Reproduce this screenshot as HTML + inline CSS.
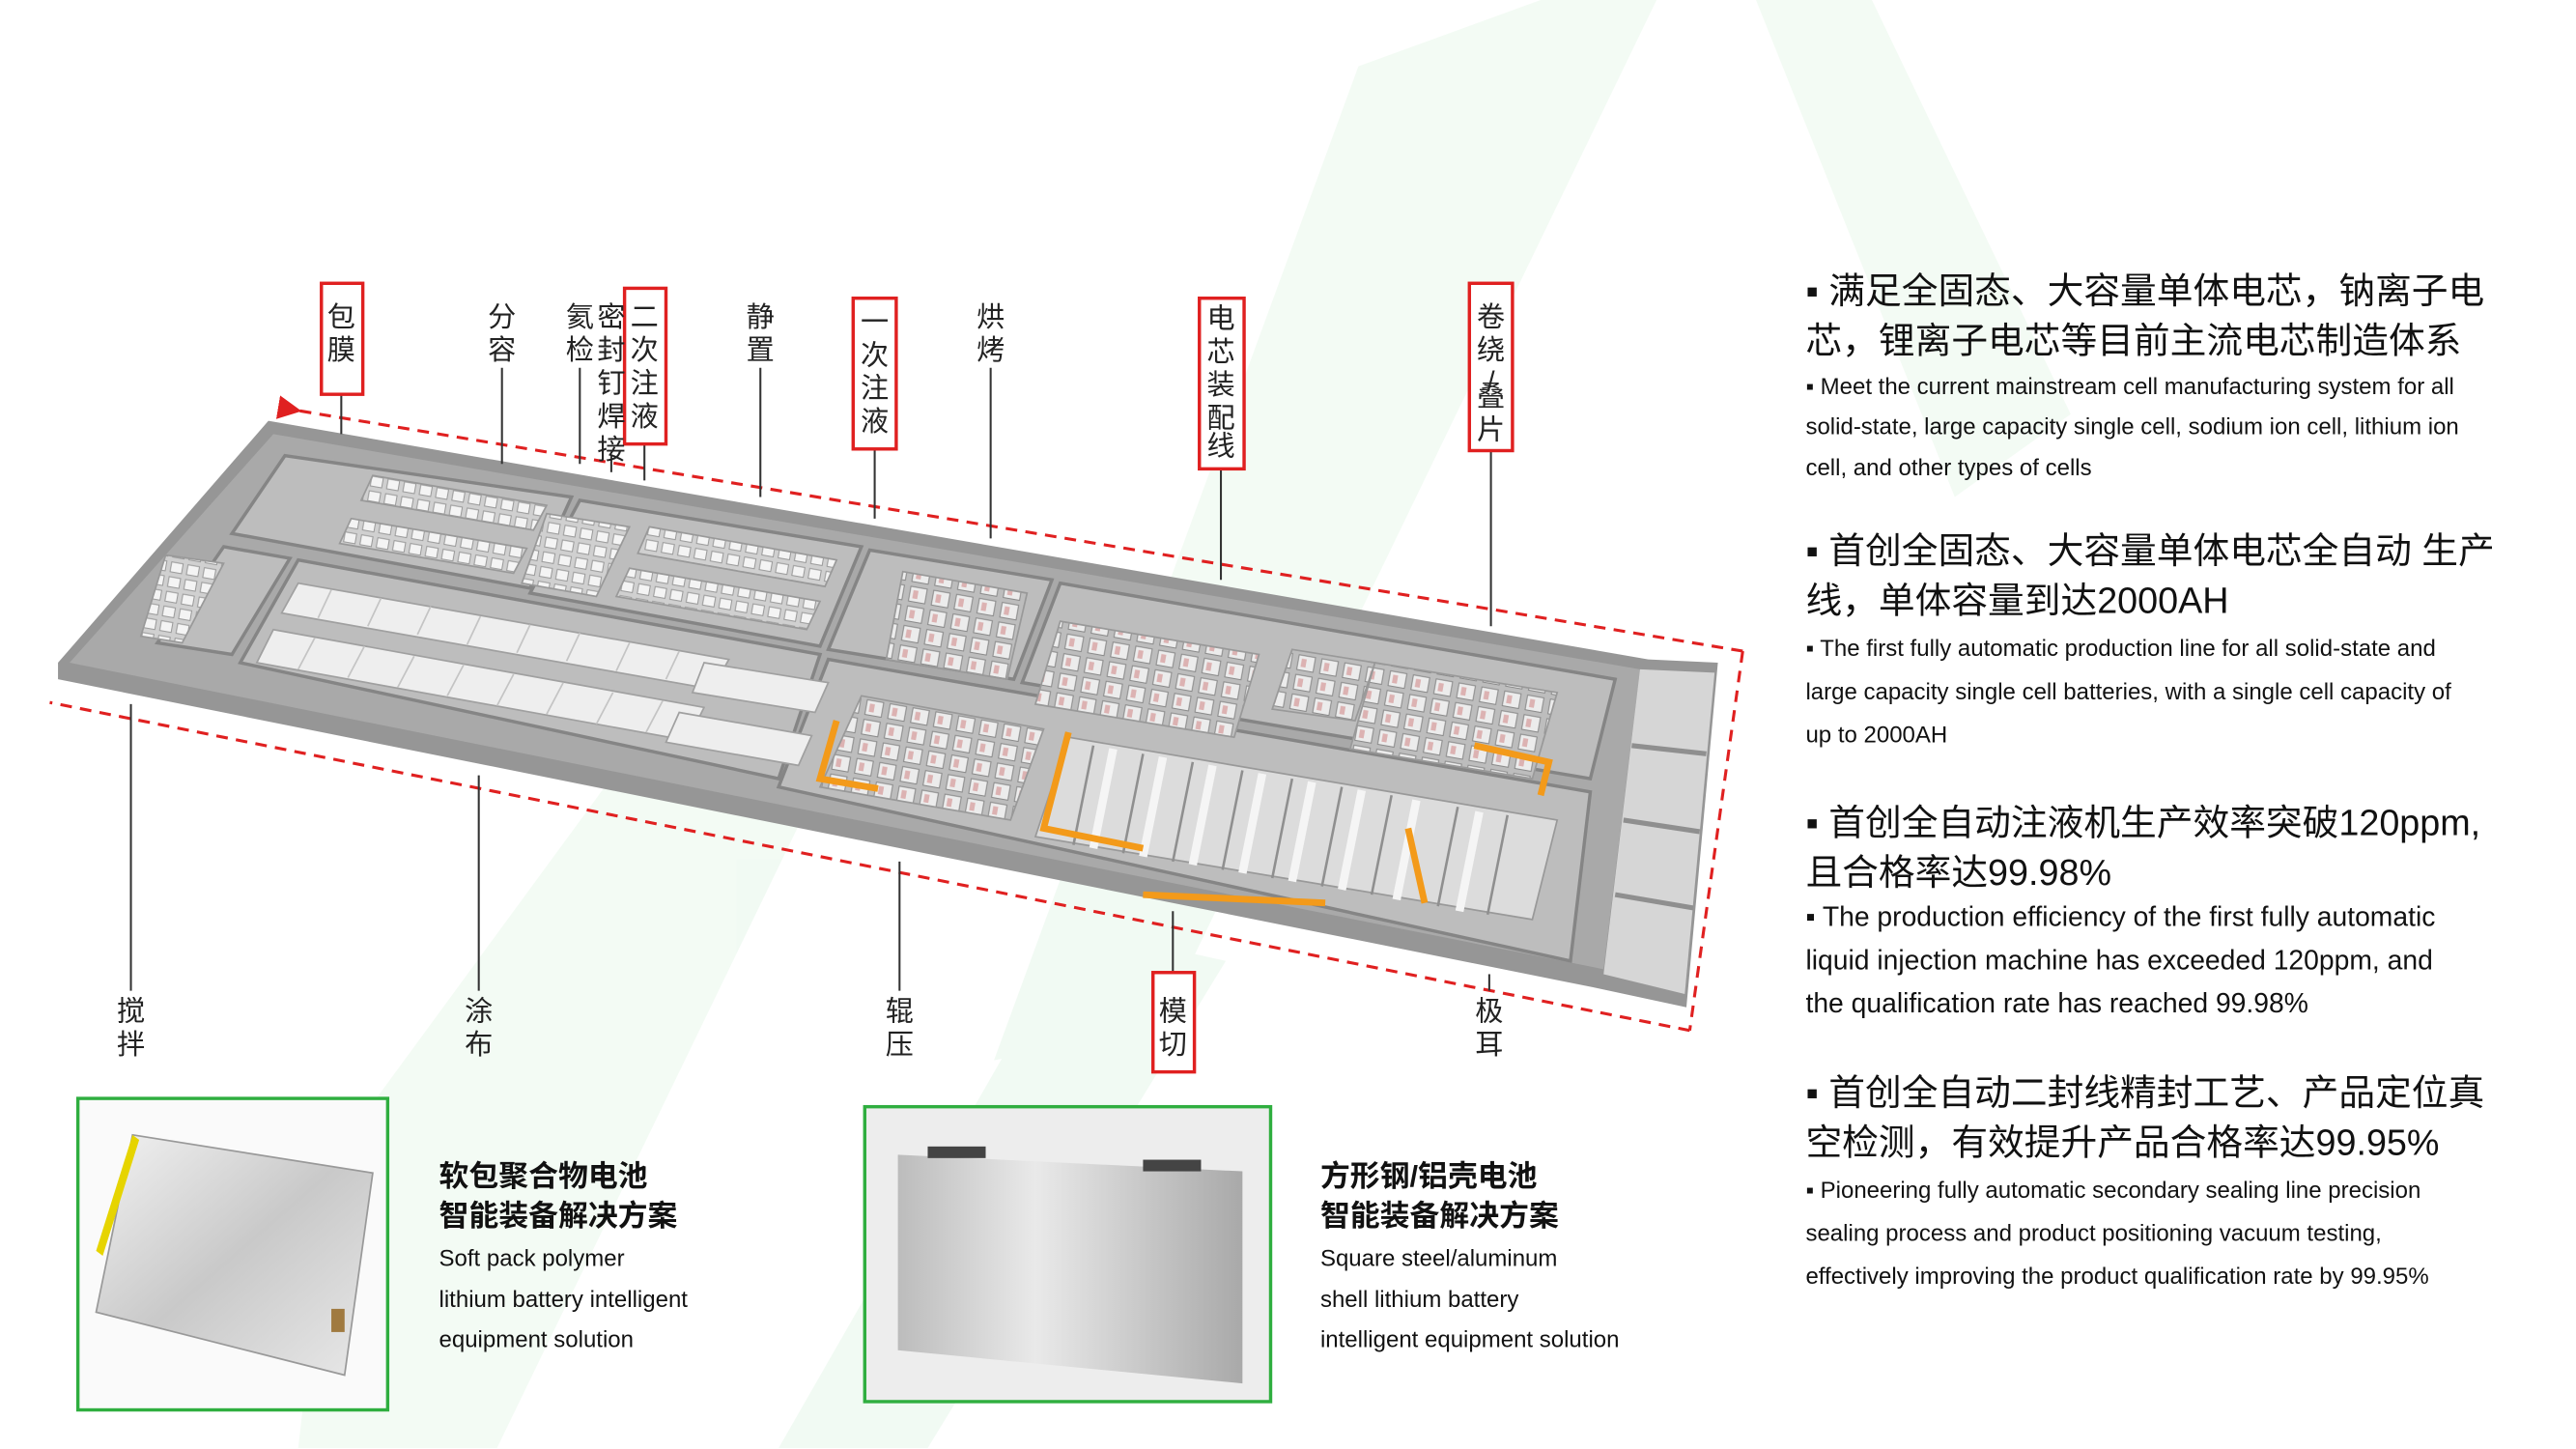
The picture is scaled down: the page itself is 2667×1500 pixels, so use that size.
<!DOCTYPE html>
<html><head><meta charset="utf-8"><style>
html,body{margin:0;padding:0;background:#fff;}
svg{display:block;}
text{font-family:"Liberation Sans","Noto Sans CJK SC",sans-serif;}
</style></head><body>
<svg width="2667" height="1500" viewBox="0 0 1555 874.6" xmlns="http://www.w3.org/2000/svg">
<defs>
<linearGradient id="g1" x1="0" y1="0" x2="1" y2="1"><stop offset="0" stop-color="#f2f2f2"/><stop offset="0.5" stop-color="#c9c9c9"/><stop offset="1" stop-color="#e8e8e8"/></linearGradient>
<linearGradient id="g2" x1="0" y1="0" x2="1" y2="0"><stop offset="0" stop-color="#bcbcbc"/><stop offset="0.4" stop-color="#e9e9e9"/><stop offset="1" stop-color="#a9a9a9"/></linearGradient>
<pattern id="eq" width="10" height="9" patternUnits="userSpaceOnUse" patternTransform="rotate(10)">
<rect width="10" height="9" fill="#d0d0d0"/><rect x="1" y="1" width="7" height="6" fill="#f4f4f4" stroke="#9a9a9a" stroke-width="0.6"/>
</pattern>
<pattern id="eq2" width="14" height="12" patternUnits="userSpaceOnUse" patternTransform="rotate(10)">
<rect width="14" height="12" fill="#bdbdbd"/><rect x="1" y="1" width="10" height="9" fill="#ececec" stroke="#8a8a8a" stroke-width="0.6"/><rect x="3" y="3" width="3" height="5" fill="#c77" opacity="0.5"/>
</pattern>
<marker id="ar" markerWidth="8" markerHeight="8" refX="4" refY="4" orient="auto"><path d="M8,0 L0,4 L8,8 z" fill="#e02020"/></marker>
</defs>
<rect width="1555" height="875" fill="#fff"/>
<g fill="#2db34a" opacity="0.06">
<polygon points="820,40 930,0 1000,0 700,620 600,640"/>
<polygon points="200,700 420,400 520,420 300,874 180,874"/>
<polygon points="1060,0 1130,0 1250,250 1180,300"/>
<polygon points="470,874 650,560 740,580 560,874"/>
</g>
<polygon points="162,254 995,398 1037,400 1018,608 962,596 35,410 35,400" fill="#969696"/>
<polygon points="165,262 990,404 968,585 42,400" fill="#a9a9a9"/>
<polygon points="990,404 1035,406 1017,600 968,588" fill="#d6d6d6"/>
<g stroke="#8f8f8f" stroke-width="3"><line x1="985" y1="450" x2="1030" y2="455"/><line x1="980" y1="495" x2="1026" y2="502"/><line x1="975" y1="540" x2="1022" y2="548"/></g>
<g fill="#bdbdbd" stroke="#858585" stroke-width="2">
<polygon points="172,275 345,300 320,355 140,322"/>
<polygon points="350,302 520,330 495,390 320,358"/>
<polygon points="525,332 635,350 612,410 500,392"/>
<polygon points="640,352 975,410 960,470 617,412"/>
<polygon points="135,330 175,337 140,395 95,388"/>
<polygon points="180,338 495,395 470,470 145,400"/>
<polygon points="500,398 960,478 948,580 470,475"/>
</g>
<g fill="url(#eq)" stroke="#999" stroke-width="1">
<polygon points="225,287 330,305 322,320 218,302"/>
<polygon points="212,313 318,331 310,346 205,328"/>
<polygon points="392,318 505,338 498,354 385,334"/>
<polygon points="380,343 495,363 487,380 372,360"/>
<polygon points="100,335 135,340 110,388 85,384"/>
<polygon points="330,310 380,318 360,360 315,352"/>
</g>
<g fill="#eeeeee" stroke="#a0a0a0" stroke-width="1">
<polygon points="180,352 440,398 430,416 170,370"/>
<polygon points="165,380 425,427 415,447 155,400"/>
<polygon points="425,400 500,412 492,430 418,418"/>
<polygon points="410,430 490,444 482,462 402,448"/>
</g>
<g stroke="#c4c4c4" stroke-width="1">
<line x1="200" y1="356" x2="192" y2="373"/><line x1="230" y1="361" x2="222" y2="378"/><line x1="260" y1="366" x2="252" y2="383"/><line x1="290" y1="372" x2="282" y2="389"/><line x1="320" y1="377" x2="312" y2="394"/><line x1="350" y1="382" x2="342" y2="399"/><line x1="380" y1="388" x2="372" y2="405"/><line x1="410" y1="393" x2="402" y2="410"/>
<line x1="190" y1="385" x2="180" y2="404"/><line x1="220" y1="390" x2="210" y2="409"/><line x1="250" y1="396" x2="240" y2="415"/><line x1="280" y1="401" x2="270" y2="420"/><line x1="310" y1="407" x2="300" y2="426"/><line x1="340" y1="412" x2="330" y2="431"/><line x1="370" y1="418" x2="360" y2="437"/><line x1="400" y1="423" x2="390" y2="442"/>
</g>
<g fill="url(#eq2)" stroke="#999" stroke-width="1">
<polygon points="545,345 620,358 608,410 535,398"/>
<polygon points="640,375 760,395 745,445 625,425"/>
<polygon points="780,392 830,400 818,435 768,428"/>
<polygon points="830,400 940,418 925,470 815,452"/>
<polygon points="520,420 630,440 610,495 495,475"/>
</g>
<polygon points="645,445 940,495 925,555 625,505" fill="#dcdcdc" stroke="#999"/>
<g stroke="#8f8f8f" stroke-width="1.5">
<line x1="660" y1="450" x2="648" y2="510"/><line x1="690" y1="455" x2="678" y2="515"/><line x1="720" y1="460" x2="708" y2="520"/><line x1="750" y1="465" x2="738" y2="525"/><line x1="780" y1="470" x2="768" y2="530"/><line x1="810" y1="475" x2="798" y2="535"/><line x1="840" y1="480" x2="828" y2="540"/><line x1="880" y1="487" x2="868" y2="547"/><line x1="910" y1="492" x2="898" y2="552"/>
</g>
<g stroke="#f5f5f5" stroke-width="5">
<line x1="672" y1="452" x2="660" y2="512"/><line x1="702" y1="457" x2="690" y2="517"/><line x1="732" y1="462" x2="720" y2="522"/><line x1="762" y1="467" x2="750" y2="527"/><line x1="792" y1="472" x2="780" y2="532"/><line x1="822" y1="477" x2="810" y2="537"/><line x1="855" y1="483" x2="843" y2="543"/><line x1="893" y1="490" x2="881" y2="550"/>
</g>
<g stroke="#f39a1a" stroke-width="4" fill="none">
<polyline points="505,435 495,470 530,476"/>
<polyline points="645,442 630,500 690,512"/>
<polyline points="690,540 800,545"/>
<polyline points="850,500 860,545"/>
<polyline points="890,450 935,460 930,480"/>
</g>
<g stroke="#e02020" stroke-width="1.8" stroke-dasharray="7,5" fill="none">
<line x1="1052" y1="393" x2="175" y2="247" marker-end="url(#ar)"/>
<line x1="1052" y1="393" x2="1020" y2="622"/>
<line x1="1020" y1="622" x2="30" y2="424"/>
</g>
<g stroke="#333" stroke-width="1.2">
<line x1="206" y1="238" x2="206" y2="262"/>
<line x1="303" y1="222" x2="303" y2="280"/>
<line x1="350" y1="222" x2="350" y2="280"/>
<line x1="369" y1="275" x2="369" y2="285"/>
<line x1="389" y1="268" x2="389" y2="290"/>
<line x1="459" y1="222" x2="459" y2="300"/>
<line x1="528" y1="271" x2="528" y2="313"/>
<line x1="598" y1="222" x2="598" y2="325"/>
<line x1="737" y1="283" x2="737" y2="350"/>
<line x1="900" y1="272" x2="900" y2="378"/>
<line x1="79" y1="425" x2="79" y2="598"/>
<line x1="289" y1="468" x2="289" y2="598"/>
<line x1="543" y1="520" x2="543" y2="598"/>
<line x1="708" y1="550" x2="708" y2="588"/>
<line x1="899" y1="588" x2="899" y2="598"/>
</g>
<g fill="#fff" stroke="#e02020" stroke-width="2">
<rect x="194" y="171" width="25" height="67"/>
<rect x="377" y="174" width="25" height="94"/>
<rect x="515" y="180" width="26" height="91"/>
<rect x="724" y="180" width="27" height="103"/>
<rect x="887" y="171" width="26" height="101"/>
<rect x="696" y="587" width="25" height="60"/>
</g>
<g font-size="17" fill="#222" text-anchor="middle">
<text x="206" y="197">包</text><text x="206" y="217">膜</text>
<text x="303" y="197">分</text><text x="303" y="217">容</text>
<text x="350" y="197">氦</text><text x="350" y="217">检</text>
<text x="369" y="197">密</text><text x="369" y="217">封</text><text x="369" y="237">钉</text><text x="369" y="257">焊</text><text x="369" y="277">接</text>
<text x="389" y="197">二</text><text x="389" y="217">次</text><text x="389" y="237">注</text><text x="389" y="257">液</text>
<text x="459" y="197">静</text><text x="459" y="217">置</text>
<text x="528" y="200">一</text><text x="528" y="220">次</text><text x="528" y="240">注</text><text x="528" y="260">液</text>
<text x="598" y="197">烘</text><text x="598" y="217">烤</text>
<text x="737" y="198">电</text><text x="737" y="218">芯</text><text x="737" y="238">装</text><text x="737" y="258">配</text><text x="737" y="275">线</text>
<text x="900" y="197">卷</text><text x="900" y="217">绕</text><text x="900" y="236">/</text><text x="900" y="245">叠</text><text x="900" y="265">片</text>
<text x="79" y="616">搅</text><text x="79" y="636">拌</text>
<text x="289" y="616">涂</text><text x="289" y="636">布</text>
<text x="543" y="616">辊</text><text x="543" y="636">压</text>
<text x="708" y="616">模</text><text x="708" y="636">切</text>
<text x="899" y="616">极</text><text x="899" y="636">耳</text>
</g>
<rect x="47" y="663" width="187" height="188" fill="#fafafa" stroke="#2fae3f" stroke-width="2"/>
<polygon points="80,685 225,708 208,830 58,792" fill="url(#g1)" stroke="#999"/>
<polygon points="80,685 58,755 62,758 84,688" fill="#e6d400"/>
<rect x="200" y="790" width="8" height="14" fill="#a07a40"/>
<rect x="522" y="668" width="245" height="178" fill="#ededed" stroke="#2fae3f" stroke-width="2"/>
<polygon points="542,697 750,707 750,835 542,815" fill="url(#g2)"/>
<rect x="560" y="692" width="35" height="7" fill="#444"/><rect x="690" y="700" width="35" height="7" fill="#444"/>
<g fill="#111">
<text x="265" y="716" font-size="18" font-weight="bold">软包聚合物电池</text>
<text x="265" y="740" font-size="18" font-weight="bold">智能装备解决方案</text>
<text x="265" y="764" font-size="14">Soft pack polymer</text>
<text x="265" y="789" font-size="14">lithium battery intelligent</text>
<text x="265" y="813" font-size="14">equipment solution</text>
<text x="797" y="716" font-size="18" font-weight="bold">方形钢/铝壳电池</text>
<text x="797" y="740" font-size="18" font-weight="bold">智能装备解决方案</text>
<text x="797" y="764" font-size="14">Square steel/aluminum</text>
<text x="797" y="789" font-size="14">shell lithium battery</text>
<text x="797" y="813" font-size="14">intelligent equipment solution</text>
</g>
<g fill="#111">
<text x="1090" y="183" font-size="22">▪ 满足全固态、大容量单体电芯，钠离子电</text>
<text x="1090" y="213" font-size="22">芯，锂离子电芯等目前主流电芯制造体系</text>
<text x="1090" y="238" font-size="14">▪ Meet the current mainstream cell manufacturing system for all</text>
<text x="1090" y="262" font-size="14">solid-state, large capacity single cell, sodium ion cell, lithium ion</text>
<text x="1090" y="287" font-size="14">cell, and other types of cells</text>
<text x="1090" y="340" font-size="22">▪ 首创全固态、大容量单体电芯全自动 生产</text>
<text x="1090" y="370" font-size="22">线，单体容量到达2000AH</text>
<text x="1090" y="396" font-size="14">▪ The first fully automatic production line for all solid-state and</text>
<text x="1090" y="422" font-size="14">large capacity single cell batteries, with a single cell capacity of</text>
<text x="1090" y="448" font-size="14">up to 2000AH</text>
<text x="1090" y="504" font-size="22">▪ 首创全自动注液机生产效率突破120ppm,</text>
<text x="1090" y="534" font-size="22">且合格率达99.98%</text>
<text x="1090" y="559" font-size="16.5">▪ The production efficiency of the first fully automatic</text>
<text x="1090" y="585" font-size="16.5">liquid injection machine has exceeded 120ppm, and</text>
<text x="1090" y="611" font-size="16.5">the qualification rate has reached 99.98%</text>
<text x="1090" y="667" font-size="22">▪ 首创全自动二封线精封工艺、产品定位真</text>
<text x="1090" y="697" font-size="22">空检测，有效提升产品合格率达99.95%</text>
<text x="1090" y="723" font-size="14">▪ Pioneering fully automatic secondary sealing line precision</text>
<text x="1090" y="749" font-size="14">sealing process and product positioning vacuum testing,</text>
<text x="1090" y="775" font-size="14">effectively improving the product qualification rate by 99.95%</text>
</g>
</svg>
</body></html>
